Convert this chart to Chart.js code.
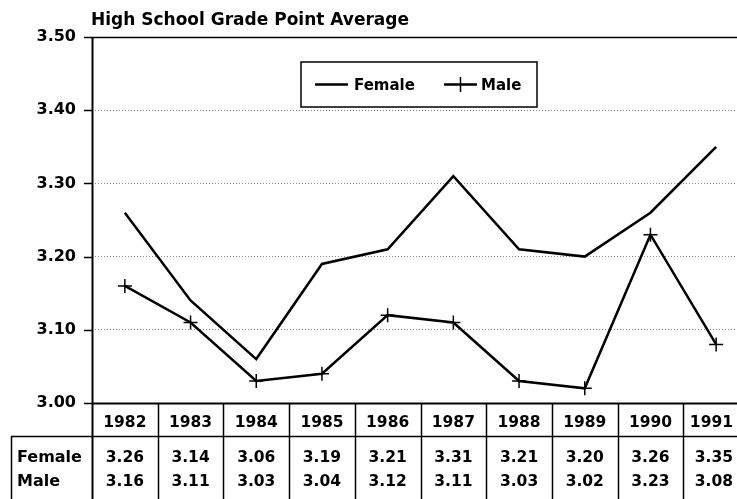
<!DOCTYPE html>
<html>
<head>
<meta charset="utf-8">
<script src="https://cdn.jsdelivr.net/npm/chart.js@4"></script>
<style>
  html, body { margin: 0; padding: 0; background: #fff; overflow: hidden; width: 737px; height: 499px; }
  #wrap { position: absolute; left: 0; top: 0; width: 749px; height: 499px; }
</style>
</head>
<body>
<div id="wrap"><canvas id="c" width="749" height="499"></canvas></div>
<script>
const chartTitle = 'High School Grade Point Average';
const years = ['1982','1983','1984','1985','1986','1987','1988','1989','1990','1991'];
const seriesNames = ['Female', 'Male'];
const female = [3.26, 3.14, 3.06, 3.19, 3.21, 3.31, 3.21, 3.20, 3.26, 3.35];
const male   = [3.16, 3.11, 3.03, 3.04, 3.12, 3.11, 3.03, 3.02, 3.23, 3.08];
const yMin = 3.0, yMax = 3.5, yStep = 0.1;

const FONT = '"DejaVu Sans", sans-serif';
const VISIBLE_W = 737;

const decor = {
  id: 'decor',
  afterDraw(chart) {
    const ctx = chart.ctx;
    const x = chart.scales.x, y = chart.scales.y;
    const ca = chart.chartArea;
    const W = chart.width, H = chart.height;
    const left = ca.left, top = ca.top;
    ctx.save();
    ctx.strokeStyle = '#000';
    ctx.fillStyle = '#000';

    // title
    ctx.font = 'bold 17px ' + FONT;
    ctx.textAlign = 'left';
    ctx.textBaseline = 'alphabetic';
    ctx.fillText(chartTitle, 91, 25);

    // tick marks
    ctx.lineWidth = 1.5;
    y.ticks.forEach(t => {
      const py = Math.round(y.getPixelForValue(t.value)) + 0.5;
      ctx.beginPath(); ctx.moveTo(left - 8, py); ctx.lineTo(left, py); ctx.stroke();
    });

    // top and bottom solid lines
    const yTop = Math.round(y.getPixelForValue(yMax)) + 0.5;
    const yBot = Math.round(y.getPixelForValue(yMin)) + 0.5;
    ctx.lineWidth = 1.5;
    ctx.beginPath(); ctx.moveTo(left, yTop); ctx.lineTo(W, yTop); ctx.stroke();
    ctx.lineWidth = 2;
    ctx.beginPath(); ctx.moveTo(left, yBot); ctx.lineTo(W, yBot); ctx.stroke();
    // y axis line down to bottom of table
    ctx.beginPath(); ctx.moveTo(left + 0.5, top); ctx.lineTo(left + 0.5, H); ctx.stroke();

    // table
    const rowLine = 436.5;
    const half = (x.getPixelForValue(1) - x.getPixelForValue(0)) / 2;
    ctx.lineWidth = 1.5;
    for (let i = 1; i < years.length; i++) {
      const bx = Math.round(x.getPixelForValue(i) - half) + 0.5;
      ctx.beginPath(); ctx.moveTo(bx, yBot); ctx.lineTo(bx, H); ctx.stroke();
    }
    ctx.beginPath(); ctx.moveTo(11, rowLine); ctx.lineTo(W, rowLine); ctx.stroke();
    ctx.beginPath(); ctx.moveTo(11.5, rowLine); ctx.lineTo(11.5, H); ctx.stroke();

    ctx.textAlign = 'center';
    ctx.textBaseline = 'middle';
    const put = (txt, cx, cy) => {
      const w = ctx.measureText(txt).width;
      ctx.fillText(txt, Math.min(cx, VISIBLE_W - 4 - w / 2), cy);
    };
    years.forEach((yr, i) => {
      const cx = x.getPixelForValue(i);
      ctx.font = 'bold 15.5px ' + FONT;
      put(yr, cx, 423);
      put(female[i].toFixed(2), cx, 458);
      put(male[i].toFixed(2), cx, 482);
    });
    ctx.font = 'bold 16px ' + FONT;
    ctx.textAlign = 'left';
    ctx.fillText(seriesNames[0], 17, 458);
    ctx.fillText(seriesNames[1], 17, 482);

    // legend
    ctx.fillStyle = '#fff';
    ctx.fillRect(301, 62, 236, 45);
    ctx.fillStyle = '#000';
    ctx.lineWidth = 1.5;
    ctx.strokeRect(301, 62, 236, 45);
    ctx.lineWidth = 2.5;
    ctx.beginPath(); ctx.moveTo(315, 84.5); ctx.lineTo(348, 84.5); ctx.stroke();
    ctx.beginPath(); ctx.moveTo(444, 84.5); ctx.lineTo(477, 84.5); ctx.stroke();
    ctx.lineWidth = 1.5;
    ctx.beginPath(); ctx.moveTo(460.5, 77); ctx.lineTo(460.5, 92); ctx.stroke();
    ctx.font = 'bold 15px ' + FONT;
    ctx.textBaseline = 'middle';
    ctx.fillText(seriesNames[0], 354, 86);
    ctx.fillText(seriesNames[1], 481, 86);

    ctx.restore();
  }
};

new Chart(document.getElementById('c'), {
  type: 'line',
  data: {
    labels: years,
    datasets: [
      { label: seriesNames[0], data: female, borderColor: '#000', backgroundColor: '#000',
        borderWidth: 2.5, pointRadius: 0, tension: 0, fill: false },
      { label: seriesNames[1], data: male, borderColor: '#000', backgroundColor: '#000',
        borderWidth: 2.5, pointStyle: 'cross', pointRadius: 7, pointBorderWidth: 1.5,
        tension: 0, fill: false }
    ]
  },
  options: {
    responsive: false,
    animation: false,
    devicePixelRatio: 1,
    layout: { autoPadding: false, padding: { top: 37, bottom: 96, left: 0, right: 0 } },
    plugins: { legend: { display: false }, tooltip: { enabled: false }, title: { display: false } },
    scales: {
      x: { type: 'category', offset: true, display: false },
      y: {
        min: yMin, max: yMax,
        afterFit(s) { s.width = 92; },
        ticks: {
          stepSize: yStep,
          color: '#000',
          padding: 16,
          font: { family: FONT, size: 16, weight: 'bold' },
          callback: v => Number(v).toFixed(2)
        },
        grid: { color: '#8a8a8a', lineWidth: 1, drawTicks: false },
        border: { display: false, dash: [1, 2] }
      }
    }
  },
  plugins: [decor]
});
</script>
</body>
</html>
